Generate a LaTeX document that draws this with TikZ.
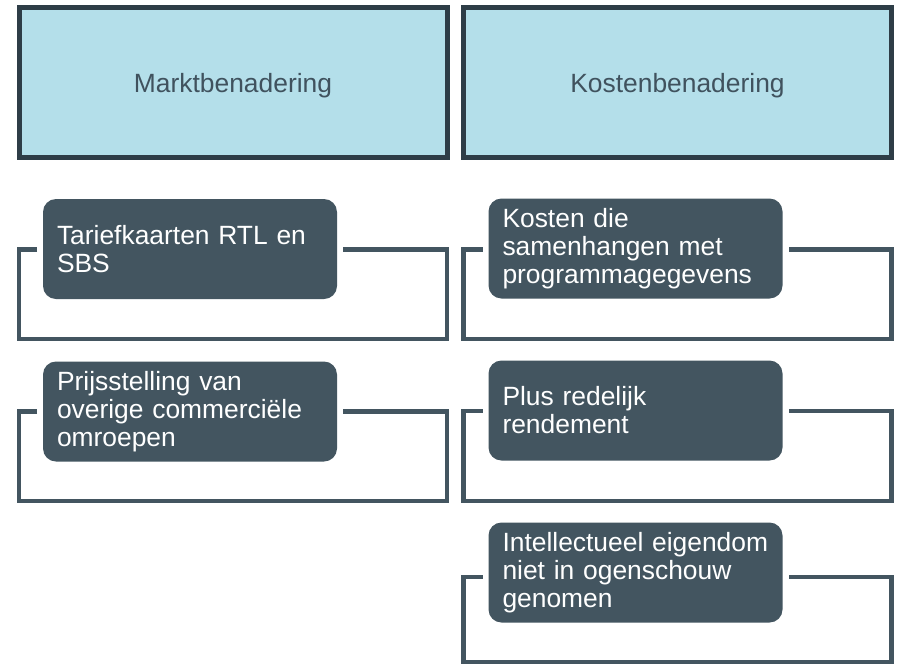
\documentclass[tikz,border=0pt]{standalone}
\usepackage{fontspec}
\setmainfont{Liberation Sans}
\definecolor{hdrfill}{HTML}{B4DFEA}
\definecolor{hdrline}{HTML}{2E3D47}
\definecolor{hdrtext}{HTML}{40525E}
\definecolor{boxfill}{HTML}{435560}
\begin{document}
\begin{tikzpicture}[x=1pt,y=-1pt,
  header/.style={draw=hdrline, line width=5pt, fill=hdrfill, text=hdrtext,
    minimum height=150pt, minimum width=428pt, outer sep=0pt, inner sep=0pt,
    text depth=0pt, font=\fontsize{26.4}{28}\selectfont},
  item/.style={fill=boxfill, rounded corners=13pt, text=white, align=left,
    text width=266pt, inner xsep=14pt, inner ysep=0pt, minimum height=100pt,
    outer sep=0pt, font=\fontsize{26.4}{28}\selectfont},
  bracket/.style={draw=boxfill, line width=4.5pt}]
\useasboundingbox (0,0) rectangle (900,665);
\fill[white] (0,0) rectangle (900,665);

% headers
\node[header] (h1) at (233,82.5) {Marktbenadering};
\node[header] (h2) at (677.5,82.5) {Kostenbenadering};

% bracket bottoms
\coordinate (lb1) at (233,339);
\coordinate (lb2) at (233,501);
\coordinate (rb1) at (677.5,339);
\coordinate (rb2) at (677.5,501);
\coordinate (rb3) at (677.5,662);

% bracket tops
\coordinate (t1) at (190,249.5);
\coordinate (t2) at (190,411.5);
\coordinate (t3) at (635.5,249.5);
\coordinate (t4) at (635.5,411);
\coordinate (t5) at (635.5,577);

% item boxes
\node[item] (m1) at (190,249) {Tariefkaarten RTL en\\SBS};
\node[item] (m2) at (190,411.5) {Prijsstelling van\\overige commerciële\\omroepen};
\node[item] (k1) at (635.5,248.5) {Kosten die\\samenhangen met\\programmagegevens};
\node[item] (k2) at (635.5,410.5) {Plus redelijk\\rendement};
\node[item] (k3) at (635.5,572.5) {Intellectueel eigendom\\niet in ogenschouw\\genomen};

\draw[bracket] ([xshift=-6pt]m1.west |- t1) -- (t1 -| h1.west) |- (lb1) -| (t1 -| h1.east) -- ([xshift=6pt]m1.east |- t1);
\draw[bracket] ([xshift=-6pt]m2.west |- t2) -- (t2 -| h1.west) |- (lb2) -| (t2 -| h1.east) -- ([xshift=6pt]m2.east |- t2);
\draw[bracket] ([xshift=-6pt]k1.west |- t3) -- (t3 -| h2.west) |- (rb1) -| (t3 -| h2.east) -- ([xshift=6pt]k1.east |- t3);
\draw[bracket] ([xshift=-6pt]k2.west |- t4) -- (t4 -| h2.west) |- (rb2) -| (t4 -| h2.east) -- ([xshift=6pt]k2.east |- t4);
\draw[bracket] ([xshift=-6pt]k3.west |- t5) -- (t5 -| h2.west) |- (rb3) -| (t5 -| h2.east) -- ([xshift=6pt]k3.east |- t5);
\end{tikzpicture}
\end{document}
